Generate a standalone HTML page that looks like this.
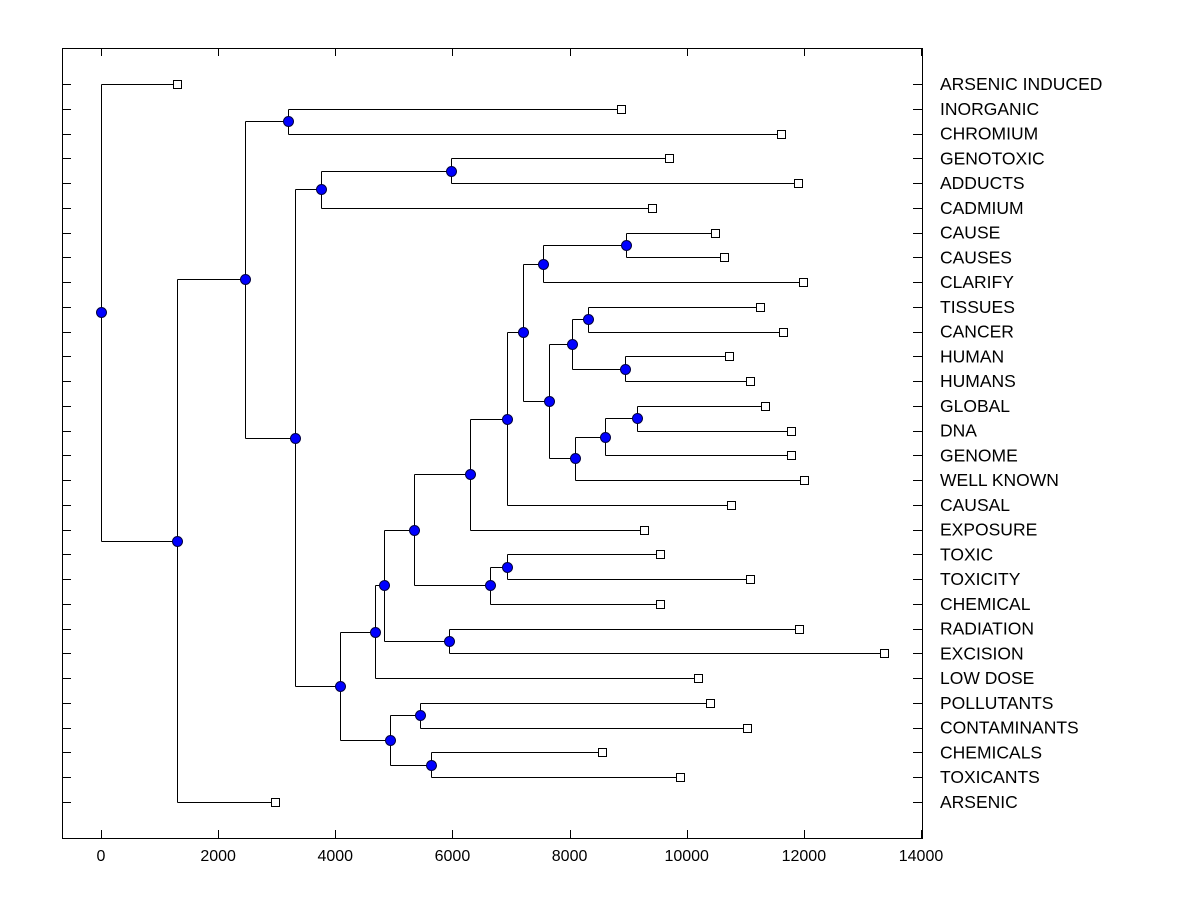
<!DOCTYPE html>
<html><head><meta charset="utf-8"><style>
body{margin:0;background:#fff;}
svg text{font-family:"Liberation Sans",Arial,sans-serif;font-size:16px;fill:#000;}
svg text.leaf{font-size:17.5px;}
</style></head><body>
<svg id="chart" width="1200" height="900" xmlns="http://www.w3.org/2000/svg">
<rect x="0" y="0" width="1200" height="900" fill="#fff"/>
<g id="g"></g>
</svg>
<script>
const leafLabels = ["ARSENIC INDUCED","INORGANIC","CHROMIUM","GENOTOXIC","ADDUCTS","CADMIUM","CAUSE","CAUSES","CLARIFY","TISSUES","CANCER","HUMAN","HUMANS","GLOBAL","DNA","GENOME","WELL KNOWN","CAUSAL","EXPOSURE","TOXIC","TOXICITY","CHEMICAL","RADIATION","EXCISION","LOW DOSE","POLLUTANTS","CONTAMINANTS","CHEMICALS","TOXICANTS","ARSENIC"];
const leafValues = [1298,8878,11610,9698,11900,9407,10483,10637,11986,11251,11644,10722,11080,11337,11781,11781,12003,10756,9271,9544,11080,9544,11917,13368,10193,10398,11029,8554,9885,2971];
const nodeNames = ["root","N1","N2","N3","N4","N5","N7","N6","N8","N10","N12","N11","N14","N15","N13","N16","N17","N18","N20","N19","N21","N23","N24","N22","N25","N26","N9","N27","N28"];
const nodeHeights = [0,1298,2459,3193,3312,3756,5976,4081,4678,4832,5942,5344,6642,6932,6300,6932,7205,7547,8964,7649,8042,8315,8947,8093,8605,9151,4934,5447,5634];
const nodeChildA = ["L0","N2","N3","L1","N5","N7","L3","N8","N10","N11","L22","N13","N15","L19","N16","N17","N18","N20","L6","N21","N23","L9","L11","N25","N26","L13","N27","L25","L27"];
const nodeChildB = ["N1","L29","N4","L2","N6","L5","L4","N9","L24","N12","L23","N14","L21","L20","L18","L17","N19","L8","L7","N22","N24","L10","L12","L16","L15","L14","N28","L26","L28"];
const xTicks = [0,2000,4000,6000,8000,10000,12000,14000];

const L=62,R=922,T=48,B=838;
const x0=101, kx=820/14000;
const X=v=>x0+v*kx;
const Y=i=>84+i*(802-84)/29;
const g=document.getElementById('g');
const NS='http://www.w3.org/2000/svg';
function mk(tag,attrs){const e=document.createElementNS(NS,tag);for(const k in attrs)e.setAttribute(k,attrs[k]);g.appendChild(e);return e;}

const pos={};
function resolve(id){
  if(pos[id])return pos[id];
  if(id[0]==='L'){const i=+id.slice(1);pos[id]={x:X(leafValues[i]),y:Y(i)};return pos[id];}
  const k=nodeNames.indexOf(id);
  const a=resolve(nodeChildA[k]),b=resolve(nodeChildB[k]);
  pos[id]={x:X(nodeHeights[k]),y:(a.y+b.y)/2};return pos[id];
}
nodeNames.forEach(resolve);

let e=mk('rect',{x:L+0.5,y:T+0.5,width:R-L,height:B-T,fill:'none',stroke:'#000','stroke-width':1});


xTicks.forEach(t=>{
  const x=Math.round(X(t))+0.5;
  let l=mk('line',{x1:x,y1:T,x2:x,y2:T+8,stroke:'#000'});
  
  
  l=mk('line',{x1:x,y1:B,x2:x,y2:B-8,stroke:'#000'});
  
  
  const tx=mk('text',{x:X(t),y:861,'text-anchor':'middle'});tx.textContent=t;
  
  
});
leafLabels.forEach((lab,i)=>{
  const y=Math.round(Y(i))+0.5;
  let l=mk('line',{x1:L,y1:y,x2:L+9,y2:y,stroke:'#000'});
  
  
  l=mk('line',{x1:R,y1:y,x2:R-9,y2:y,stroke:'#000'});
  
  
  const tx=mk('text',{x:940,y:Y(i)+6,'class':'leaf'});tx.textContent=lab;
  
  
});
nodeNames.forEach((n,k)=>{
  const p=pos[n],a=pos[nodeChildA[k]],b=pos[nodeChildB[k]];
  const px=Math.round(p.x)+0.5;
  const d=`M${px},${Math.round(a.y)+0.5}L${px},${Math.round(b.y)+0.5}M${px},${Math.round(a.y)+0.5}L${a.x},${Math.round(a.y)+0.5}M${px},${Math.round(b.y)+0.5}L${b.x},${Math.round(b.y)+0.5}`;
  const pa=mk('path',{d:d,stroke:'#000',fill:'none','stroke-width':1});
  
  
});
leafLabels.forEach((lab,i)=>{
  const p=pos['L'+i];
  const r=mk('rect',{x:Math.round(p.x)-3.5,y:Math.round(p.y)-3.5,width:8,height:8,fill:'#fff',stroke:'#000'});
  
  
});
nodeNames.forEach(n=>{
  const p=pos[n];
  const c=mk('circle',{cx:Math.round(p.x)+0.5,cy:Math.round(p.y)+0.5,r:5,fill:'#0000ff',stroke:'#000040','stroke-width':1});
  
  
});
</script>
</body></html>
